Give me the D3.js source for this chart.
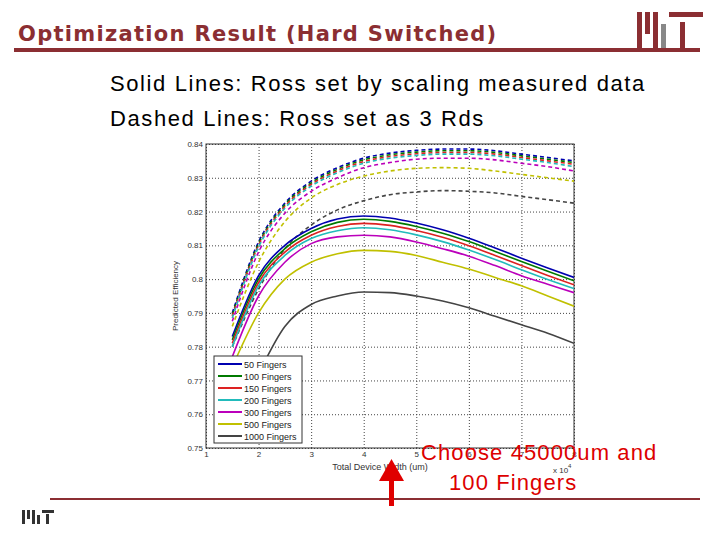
<!DOCTYPE html><html><head><meta charset="utf-8"><script src="https://cdn.jsdelivr.net/npm/d3@7"></script>
<style>body{margin:0;background:#fff}</style></head><body><svg id="c" width="720" height="540"></svg>
<script>
const xs=[1.5,2,2.5,3,3.5,4,4.5,5,5.5,6,6.5,7,7.5,8];
const labels=["50 Fingers","100 Fingers","150 Fingers","200 Fingers","300 Fingers","500 Fingers","1000 Fingers"];
const colors=["#0000b0","#007a00","#dd2222","#22bbbb","#bb00bb","#c0c000","#444444"];
const solid=[
[0.783,0.801,0.810,0.815,0.8178,0.8187,0.8181,0.8166,0.8146,0.8121,0.8092,0.8062,0.8033,0.8005],
[0.782,0.800,0.809,0.814,0.8168,0.8177,0.8171,0.8156,0.8136,0.8111,0.8082,0.8052,0.8023,0.7995],
[0.781,0.799,0.808,0.813,0.8156,0.8165,0.8159,0.8144,0.8124,0.8099,0.8070,0.8040,0.8011,0.7983],
[0.780,0.798,0.807,0.812,0.8143,0.8152,0.8146,0.8131,0.8111,0.8086,0.8058,0.8028,0.7999,0.7972],
[0.777,0.795,0.805,0.8105,0.8125,0.8130,0.8125,0.8110,0.8090,0.8068,0.8040,0.8010,0.7985,0.7960],
[0.774,0.790,0.800,0.805,0.8075,0.8085,0.8082,0.8070,0.8050,0.8030,0.8005,0.7980,0.7950,0.7920],
[0.755,0.772,0.786,0.7925,0.7950,0.7962,0.7960,0.7950,0.7935,0.7915,0.7890,0.7865,0.7840,0.7810]];
const dashed=[
[0.790,0.811,0.8225,0.829,0.833,0.8358,0.8373,0.8381,0.8385,0.8385,0.8380,0.8370,0.8360,0.8350],
[0.7895,0.8105,0.822,0.8285,0.8325,0.8353,0.8368,0.8376,0.8380,0.8380,0.8375,0.8365,0.8355,0.8345],
[0.789,0.810,0.8215,0.828,0.832,0.8348,0.8363,0.8371,0.8375,0.8375,0.8370,0.8360,0.8350,0.8340],
[0.7885,0.8095,0.821,0.8275,0.8315,0.8343,0.8358,0.8366,0.8370,0.8370,0.8365,0.8355,0.8345,0.8333],
[0.7875,0.808,0.8195,0.826,0.830,0.8330,0.8345,0.8355,0.8358,0.8358,0.8353,0.8343,0.8333,0.8320],
[0.786,0.805,0.817,0.824,0.828,0.8305,0.8320,0.8328,0.8330,0.8328,0.8320,0.8310,0.8300,0.8290],
[0.780,0.797,0.809,0.816,0.8205,0.8232,0.8250,0.8258,0.8262,0.8260,0.8255,0.8245,0.8235,0.8225]];
const xTicks=[1,2,3,4,5,6,7,8];
const yTicks=[0.75,0.76,0.77,0.78,0.79,0.8,0.81,0.82,0.83,0.84];
const svg=d3.select("#c");
const dark="#8b2e32";
svg.append("text").attr("x",18).attr("y",41).text("Optimization Result (Hard Switched)").attr("font-family","DejaVu Sans").attr("font-weight","bold").attr("font-size",21).attr("letter-spacing",1.3).attr("fill",dark);
svg.append("rect").attr("x",14).attr("y",48).attr("width",686).attr("height",4).attr("fill",dark);
[[637,12,5,36,dark],[645,12,5,22,dark],[653,12,5,36,dark],[661,24,5,24,"#888"],[669,12,34,5,dark],[680,22,5,26,dark]].forEach(r=>svg.append("rect").attr("x",r[0]).attr("y",r[1]).attr("width",r[2]).attr("height",r[3]).attr("fill",r[4]));
[[22,510,3,14],[27,510,3,9],[32,510,3,14],[37,515,3,9],[42,510,12,3],[46,514,3,10]].forEach(r=>svg.append("rect").attr("x",r[0]).attr("y",r[1]).attr("width",r[2]).attr("height",r[3]).attr("fill","#333"));
svg.append("rect").attr("x",50).attr("y",498).attr("width",650).attr("height",2).attr("fill",dark);
svg.append("text").attr("x",110).attr("y",91).text("Solid Lines: Ross set by scaling measured data").attr("font-family","Arial").attr("font-size",22).attr("letter-spacing",1.6);
svg.append("text").attr("x",110).attr("y",126).text("Dashed Lines: Ross set as 3 Rds").attr("font-family","Arial").attr("font-size",22).attr("letter-spacing",1.6);
const x=d3.scaleLinear().domain([1,8]).range([206,574]);
const y=d3.scaleLinear().domain([0.75,0.84]).range([448,144]);
const g=svg.append("g");
g.append("g").attr("transform","translate(0,448)").call(d3.axisBottom(x).tickValues(xTicks).tickSize(-304).tickFormat(d3.format("d")))
 .call(a=>{a.select(".domain").remove();a.selectAll("line").attr("stroke","#444").attr("stroke-dasharray","1,2");a.selectAll("text").attr("font-size",8).attr("font-family","Arial").attr("fill","#333");});
g.append("g").attr("transform","translate(206,0)").call(d3.axisLeft(y).tickValues(yTicks).tickSize(-368).tickFormat(d=>d===0.8?"0.8":d3.format(".2f")(d)))
 .call(a=>{a.select(".domain").remove();a.selectAll("line").attr("stroke","#444").attr("stroke-dasharray","1,2");a.selectAll("text").attr("font-size",8).attr("font-family","Arial").attr("fill","#333");});
g.append("rect").attr("x",206).attr("y",144).attr("width",368).attr("height",304).attr("fill","none").attr("stroke","#333");
svg.append("clipPath").attr("id","cp").append("rect").attr("x",206).attr("y",144).attr("width",368).attr("height",304);
const line=d3.line().x((d,i)=>x(xs[i])).y(d=>y(d)).curve(d3.curveMonotoneX);
const pl=svg.append("g").attr("clip-path","url(#cp)");
dashed.forEach((s,i)=>pl.append("path").attr("d",line(s)).attr("fill","none").attr("stroke",colors[i]).attr("stroke-width",1.6).attr("stroke-dasharray","4,3"));
solid.forEach((s,i)=>pl.append("path").attr("d",line(s)).attr("fill","none").attr("stroke",colors[i]).attr("stroke-width",1.6));
svg.append("text").attr("transform","translate(178,296) rotate(-90)").attr("text-anchor","middle").text("Predicted Efficiency").attr("font-family","Arial").attr("font-size",8).attr("fill","#333");
svg.append("text").attr("x",380).attr("y",470).attr("text-anchor","middle").text("Total Device Width (um)").attr("font-family","Arial").attr("font-size",9).attr("fill","#333");
svg.append("text").attr("x",553).attr("y",473).text("x 10").attr("font-family","Arial").attr("font-size",8).attr("fill","#333");
svg.append("text").attr("x",568).attr("y",468).text("4").attr("font-family","Arial").attr("font-size",6).attr("fill","#333");
const lg=svg.append("g");
lg.append("rect").attr("x",214).attr("y",356).attr("width",88).attr("height",87).attr("fill","#fff").attr("stroke","#333");
labels.forEach((l,i)=>{const yy=364+i*12;
 lg.append("line").attr("x1",218).attr("x2",242).attr("y1",yy).attr("y2",yy).attr("stroke",colors[i]).attr("stroke-width",2);
 lg.append("text").attr("x",244).attr("y",yy+3.5).text(l).attr("font-family","Arial").attr("font-size",9).attr("fill","#222");});
svg.append("rect").attr("x",389).attr("y",478).attr("width",5).attr("height",28).attr("fill","#e00000");
svg.append("path").attr("d","M379,481 L391.5,459 L404,481 Z").attr("fill","#e00000");
svg.append("text").attr("x",421).attr("y",460).text("Choose 45000um and").attr("font-family","Arial").attr("font-size",22).attr("letter-spacing",1.1).attr("fill","#dd0000");
svg.append("text").attr("x",449).attr("y",490).text("100 Fingers").attr("font-family","Arial").attr("font-size",22).attr("letter-spacing",1.1).attr("fill","#dd0000");
</script></body></html>
